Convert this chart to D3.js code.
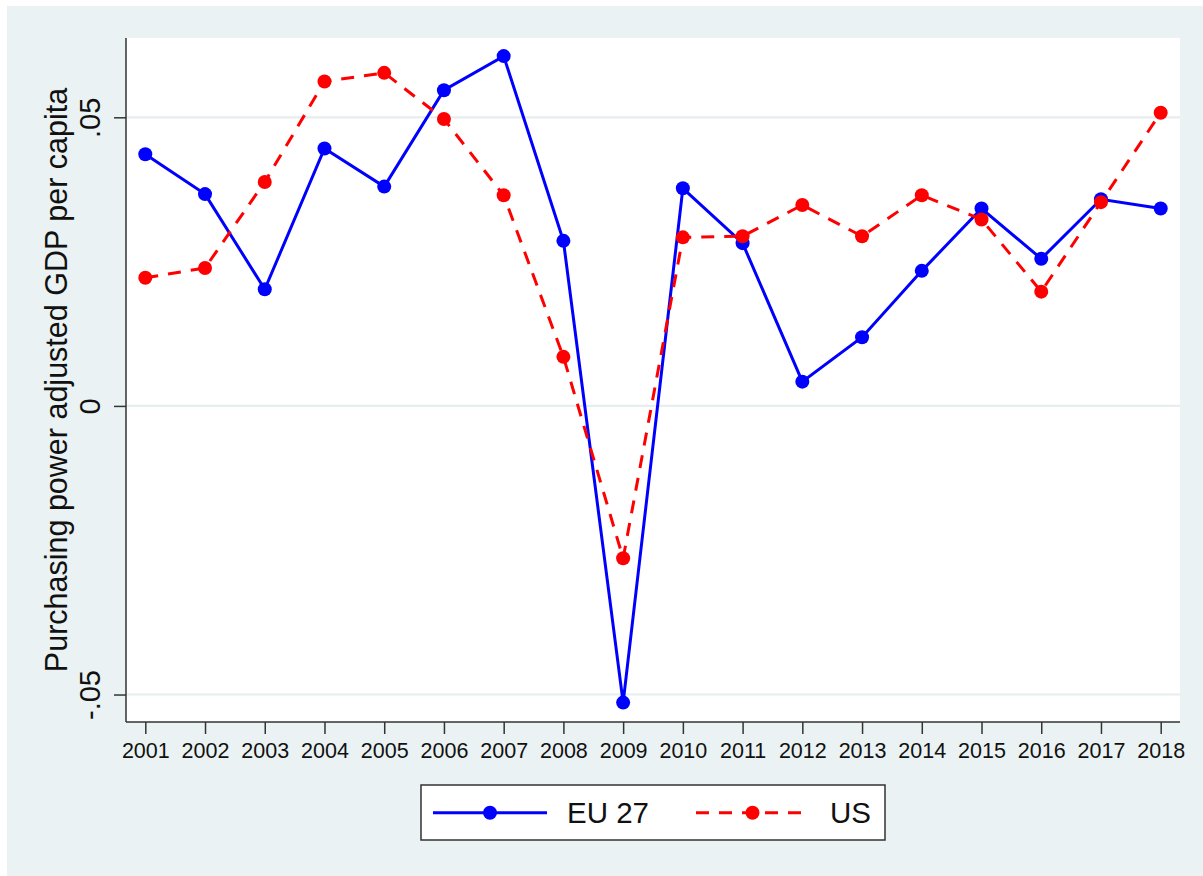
<!DOCTYPE html>
<html>
<head>
<meta charset="utf-8">
<script src="https://cdn.jsdelivr.net/npm/d3@7"></script>
<style>
  html, body { margin: 0; padding: 0; background: #ffffff; }
  svg { display: block; }
  text { font-family: Arial, "Liberation Sans", sans-serif; fill: #111; }
</style>
</head>
<body>
<svg id="chart" width="1203" height="876"></svg>
<script>
// Annual growth of purchasing-power adjusted GDP per capita
const years = [2001, 2002, 2003, 2004, 2005, 2006, 2007, 2008, 2009,
               2010, 2011, 2012, 2013, 2014, 2015, 2016, 2017, 2018];
const eu27 = [0.0436, 0.0367, 0.0202, 0.0446, 0.0380, 0.0547, 0.0606, 0.0286, -0.0514,
              0.0377, 0.0282, 0.0042, 0.0119, 0.0234, 0.0342, 0.0255, 0.0358, 0.0342];
const us   = [0.0222, 0.0239, 0.0388, 0.0562, 0.0577, 0.0497, 0.0365, 0.0085, -0.0264,
              0.0292, 0.0294, 0.0348, 0.0294, 0.0365, 0.0323, 0.0198, 0.0353, 0.0508];
const yTicks = [-0.05, 0, 0.05];
const yTickLabels = ["-.05", "0", ".05"];
const seriesNames = ["EU 27", "US"];
const yTitle = "Purchasing power adjusted GDP per capita";

const svg = d3.select("#chart");
const W = 1203, H = 876;

// outer graph region
svg.append("rect").attr("x", 7).attr("y", 6).attr("width", W - 7).attr("height", H - 6)
  .attr("fill", "#eaf2f3");

const plot = { left: 126, right: 1180, top: 38, bottom: 722 };

svg.append("rect")
  .attr("x", plot.left).attr("y", plot.top)
  .attr("width", plot.right - plot.left).attr("height", plot.bottom - plot.top)
  .attr("fill", "#ffffff");

const x = d3.scalePoint().domain(years).range([145.3, 1160.7]);
const y = d3.scaleLinear().domain([-0.05476, 0.06374]).range([plot.bottom, plot.top]);

// horizontal grid
svg.append("g").selectAll("line").data(yTicks).join("line")
  .attr("x1", plot.left).attr("x2", plot.right)
  .attr("y1", d => y(d)).attr("y2", d => y(d))
  .attr("stroke", "#e6eef0").attr("stroke-width", 2.2);

// y axis
const yAxis = d3.axisLeft(y).tickValues(yTicks)
  .tickFormat((d, i) => yTickLabels[i]).tickSize(12).tickPadding(0);
const gy = svg.append("g").attr("transform", `translate(${plot.left},0)`).call(yAxis);
gy.select(".domain").attr("d", `M0,${plot.top}V${plot.bottom}`)
  .attr("stroke", "#333").attr("stroke-width", 1.5);
gy.selectAll(".tick line").attr("stroke", "#333").attr("stroke-width", 1.5);
gy.selectAll(".tick text")
  .attr("x", 0).attr("dy", 0)
  .attr("transform", "translate(-26,0) rotate(-90)")
  .attr("text-anchor", "middle")
  .style("font-size", "29px").style("font-family", "Arial, 'Liberation Sans', sans-serif")
  .attr("fill", "#111");

// x axis
const xAxis = d3.axisBottom(x).tickSize(12).tickPadding(9);
const gx = svg.append("g").attr("transform", `translate(0,${plot.bottom})`).call(xAxis);
gx.select(".domain").attr("d", `M${plot.left},0H${plot.right}`)
  .attr("stroke", "#333").attr("stroke-width", 1.5);
gx.selectAll(".tick line").attr("stroke", "#333").attr("stroke-width", 1.5);
gx.selectAll(".tick text")
  .style("font-size", "21.5px").style("font-family", "Arial, 'Liberation Sans', sans-serif")
  .attr("fill", "#222");

// y axis title
svg.append("text")
  .attr("transform", `translate(67,${(plot.top + plot.bottom) / 2}) rotate(-90)`)
  .attr("text-anchor", "middle")
  .style("font-size", "30.5px")
  .text(yTitle);

// series
const series = [
  { name: seriesNames[0], values: eu27, color: "#0000ff", dash: null },
  { name: seriesNames[1], values: us, color: "#ff0000", dash: "13,10" }
];

const line = d3.line().x((d, i) => x(years[i])).y(d => y(d));

series.forEach(s => {
  svg.append("path")
    .attr("d", line(s.values))
    .attr("fill", "none")
    .attr("stroke", s.color)
    .attr("stroke-width", 3)
    .attr("stroke-dasharray", s.dash);
});
series.forEach(s => {
  svg.append("g").selectAll("circle").data(s.values).join("circle")
    .attr("cx", (d, i) => x(years[i])).attr("cy", d => y(d))
    .attr("r", 7).attr("fill", s.color);
});

// legend
const lg = svg.append("g");
lg.append("rect").attr("x", 421).attr("y", 785).attr("width", 464).attr("height", 55)
  .attr("fill", "#ffffff").attr("stroke", "#333").attr("stroke-width", 1.5);
const legendItems = [
  { s: series[0], x0: 433, x1: 547, tx: 567 },
  { s: series[1], x0: 696, x1: 809, tx: 830 }
];
legendItems.forEach(it => {
  const ly = 812.7;
  lg.append("line").attr("x1", it.x0).attr("x2", it.x1).attr("y1", ly).attr("y2", ly)
    .attr("stroke", it.s.color).attr("stroke-width", 3)
    .attr("stroke-dasharray", it.s.dash);
  lg.append("circle").attr("cx", (it.x0 + it.x1) / 2).attr("cy", ly).attr("r", 7)
    .attr("fill", it.s.color);
  lg.append("text").attr("x", it.tx).attr("y", ly + 10.5)
    .style("font-size", "29.5px").text(it.s.name);
});
</script>
</body>
</html>
